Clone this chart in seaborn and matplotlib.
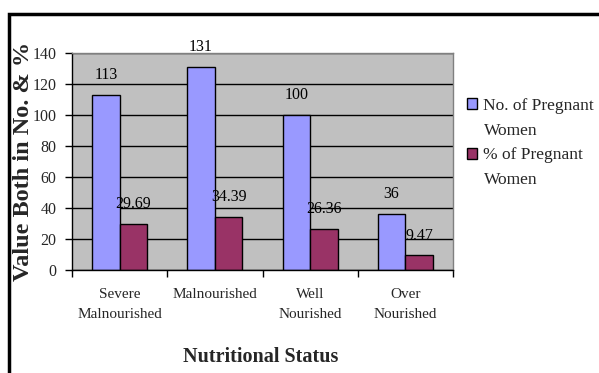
import matplotlib
matplotlib.use("Agg")
import matplotlib.pyplot as plt
from matplotlib.patches import Patch, Rectangle
import seaborn as sns
import pandas as pd

categories = ["Severe\nMalnourished", "Malnourished", "Well\nNourished", "Over\nNourished"]
series_names = ["No. of Pregnant Women", "% of Pregnant Women"]
count_values = [113, 131, 100, 36]
pct_values = [29.69, 34.39, 26.36, 9.47]
count_labels = ["113", "131", "100", "36"]
pct_labels = ["29.69", "34.39", "26.36", "9.47"]
y_ticks = [0, 20, 40, 60, 80, 100, 120, 140]

sns.set_theme(style="white")
plt.rcParams["font.family"] = ["Liberation Serif", "DejaVu Serif"]

df = pd.DataFrame({
    "status": categories * 2,
    "value": count_values + pct_values,
    "series": [series_names[0]] * 4 + [series_names[1]] * 4,
})

W, H = 599, 373
fig = plt.figure(figsize=(W / 100, H / 100), dpi=100)
ax = fig.add_axes([72 / W, 1 - 270 / H, 381 / W, 217 / H])

blue = "#9999FF"
red = "#993366"
sns.barplot(data=df, x="status", y="value", hue="series", order=categories,
            hue_order=series_names, palette=[blue, red], saturation=1, width=0.58,
            edgecolor="black", linewidth=1.0, ax=ax, legend=False, zorder=2)

for cont, labs in zip(ax.containers, [count_labels, pct_labels]):
    ax.bar_label(cont, labels=labs, padding=8.5, fontsize=11.5, color="black", zorder=5)

ax.set_facecolor("#C0C0C0")
ax.set_ylim(0, 140)
ax.set_xlim(-0.5, len(categories) - 0.5)
ax.set_yticks(y_ticks)
ax.set_yticklabels([str(t) for t in y_ticks], fontsize=11.5)
ax.yaxis.grid(True, color="black", linewidth=1.0)
ax.set_axisbelow(True)
ax.tick_params(axis="y", which="major", direction="out", length=5, width=1,
               color="black", pad=6, left=True)

# category labels at centers, boundary ticks as minor
ax.set_xticks(range(len(categories)))
ax.set_xticklabels(categories, fontsize=11, linespacing=1.65)
ax.tick_params(axis="x", which="major", length=0, pad=13)
ax.set_xticks([i - 0.5 for i in range(len(categories) + 1)], minor=True)
ax.tick_params(axis="x", which="minor", direction="out", length=5, width=1,
               color="black", bottom=True)

for s in ["left", "bottom"]:
    ax.spines[s].set_color("black")
    ax.spines[s].set_linewidth(1.0)
for s in ["top", "right"]:
    ax.spines[s].set_color("#808080")
    ax.spines[s].set_linewidth(1.0)

ax.set_xlabel("Nutritional Status", fontsize=14.5, fontweight="bold", va="center")
ax.xaxis.set_label_coords((261 - 72) / 381, -(357 - 270) / 217)
ax.set_ylabel("")
fig.text(24 / W, 1 - 161 / H, "Value Both in No. & %", rotation=90, fontsize=17.5,
         fontweight="bold", ha="center", va="center")

handles = [Patch(facecolor=blue, edgecolor="black", linewidth=1),
           Patch(facecolor="none", edgecolor="none"),
           Patch(facecolor=red, edgecolor="black", linewidth=1),
           Patch(facecolor="none", edgecolor="none")]
labels = ["No. of Pregnant", "Women", "% of Pregnant", "Women"]
fig.legend(handles, labels, loc="upper left", bbox_to_anchor=(467 / W, 1 - 98 / H),
           frameon=False, fontsize=12.5, handlelength=0.6, handleheight=0.6,
           handletextpad=0.35, labelspacing=0.5, borderpad=0, borderaxespad=0)

fig.patches.append(Rectangle((8.5 / W, -0.1), 1.2, (1 - 13.5 / H) + 0.1,
                             transform=fig.transFigure, fill=False,
                             edgecolor="black", linewidth=2.5, zorder=10))

fig.savefig("out.png", dpi=100)
